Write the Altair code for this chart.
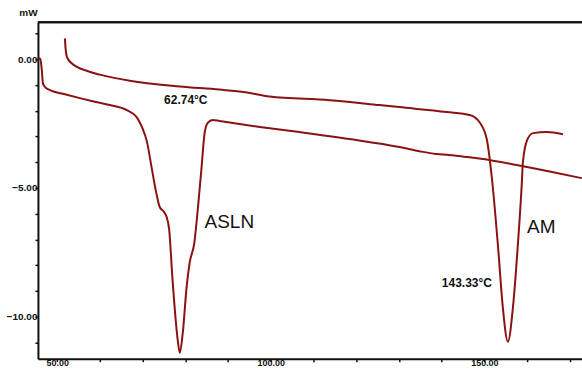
import altair as alt
import pandas as pd

# ASLN curve (lower), temperature / heat flow
asln_t = [45.6, 46.0, 46.2, 46.4, 46.65, 47.0, 47.4, 48.3, 51.8, 55.3, 58.8, 62.3, 66.3, 68.6, 69.3,
          70.0, 71.0, 72.2, 73.2, 74.0, 75.0, 75.6, 76.2, 77.0, 78.2, 78.7,
          79.4, 80.3, 81.0, 82.1, 82.9, 83.8, 84.5, 85.2, 86.4, 88.0, 97.0, 106.7, 118.4, 130.1,
          135.0, 138.7, 141.7, 146.0, 151.1, 158.8, 165.0, 172.8]
asln_q = [0.04, 0.02, -0.12, -0.43, -0.93, -1.05, -1.12, -1.20, -1.36, -1.51, -1.65, -1.78, -1.98, -2.25, -2.45,
          -2.70, -3.20, -4.30, -5.20, -5.74, -5.93, -6.12, -6.60, -8.57, -10.89, -11.40,
          -10.62, -8.84, -7.91, -7.13, -5.85, -4.19, -2.87, -2.48, -2.36, -2.40, -2.62, -2.83, -3.10, -3.41,
          -3.58, -3.68, -3.72, -3.80, -3.91, -4.15, -4.35, -4.62]

# AM curve (upper)
am_t = [51.8, 52.0, 52.3, 53.4, 56.9, 60.0, 67.0, 78.7, 88.0, 94.0, 99.7, 113.8, 125.4, 130.1,
        141.2, 146.6, 149.0, 150.6, 151.8, 153.2, 154.3, 155.5, 156.7, 157.8, 158.8, 159.0,
        160.0, 161.4, 164.6, 168.4]
am_q = [0.81, 0.35, 0.08, -0.16, -0.45, -0.60, -0.84, -1.06, -1.18, -1.28, -1.45, -1.59, -1.78, -1.86,
        -2.05, -2.17, -2.48, -3.14, -4.69, -7.29, -9.61, -10.97, -9.61, -7.29, -4.69, -4.03,
        -3.14, -2.87, -2.83, -2.91]

labels = ["62.74\u00b0C", "143.33\u00b0C"]
label_t = [80.1, 145.9]
label_q = [-1.59, -8.68]

names = ["ASLN", "AM"]
name_t = [84.5, 160.0]
name_q = [-6.32, -6.5]

x_ticks = list(range(50, 180, 10))
y_ticks = list(range(-11, 2, 1))

rows = []
for i, (t, q) in enumerate(zip(asln_t, asln_q)):
    rows.append({"s": "ASLN", "i": i, "t": t, "q": q})
for i, (t, q) in enumerate(zip(am_t, am_q)):
    rows.append({"s": "AM", "i": i, "t": t, "q": q})
df = pd.DataFrame(rows)

xs = alt.Scale(domain=[45.49, 172.85], nice=False, zero=False)
ys = alt.Scale(domain=[-11.63, 1.434], nice=False, zero=False)

xaxis = alt.Axis(values=x_ticks,
                 labelExpr="(datum.value == 50 || datum.value == 100 || datum.value == 150) ? format(datum.value, '.2f') : ''",
                 labelOverlap=False,
                 title=None, grid=False, domainColor="#111", domainWidth=2,
                 tickColor="#111", tickWidth=1.5, tickSize=3, labelPadding=-3,
                 labelFont="Liberation Sans", labelFontWeight="bold", labelFontSize=9,
                 labelColor="#111")
yaxis = alt.Axis(values=y_ticks,
                 labelExpr="(datum.value == 0 || datum.value == -5 || datum.value == -10) ? format(datum.value, '.2f') : ''",
                 labelOverlap=False,
                 title="mW", titleAngle=0, titleX=-10, titleY=-5, titleAlign="center",
                 titleBaseline="bottom", titleFont="Liberation Sans", titleFontSize=10,
                 titleFontWeight="bold", titleColor="#111",
                 grid=False, domainColor="#111", domainWidth=2,
                 tickColor="#111", tickWidth=1.5, tickSize=3, labelPadding=-2,
                 labelFont="Liberation Sans", labelFontWeight="bold", labelFontSize=10,
                 labelColor="#111")

X = lambda: alt.X("t:Q", scale=xs, axis=xaxis)
Y = lambda: alt.Y("q:Q", scale=ys, axis=yaxis)

lines = alt.Chart(df).mark_line(color="#8a1212", strokeWidth=2, interpolate="monotone").encode(
    x=X(), y=Y(), detail="s:N", order="i:Q",
)

lab_df = pd.DataFrame({"label": labels, "t": label_t, "q": label_q})
temps = alt.Chart(lab_df).mark_text(font="Liberation Sans", fontSize=12, fontWeight="bold",
                                    color="#111", align="center", baseline="middle").encode(
    x=X(), y=Y(), text="label:N")

name_df = pd.DataFrame({"name": names, "t": name_t, "q": name_q})
namesc = alt.Chart(name_df).mark_text(font="Liberation Sans", fontSize=19,
                                      color="#111", align="left", baseline="middle").encode(
    x=X(), y=Y(), text="name:N")

top_line = alt.Chart(lab_df).mark_rule(color="#111", strokeWidth=2).encode(
    x=alt.value(0), x2=alt.value(545), y=alt.value(0))

chart = alt.layer(lines, temps, namesc, top_line).properties(
    width=545, height=337,
    background="white",
    autosize=alt.AutoSizeParams(type="none"),
    padding={"left": 38, "top": 22, "right": 0, "bottom": 11},
).configure_view(stroke="transparent", strokeWidth=0)

chart.save("out.html", embed_options={"renderer": "svg", "actions": False})
